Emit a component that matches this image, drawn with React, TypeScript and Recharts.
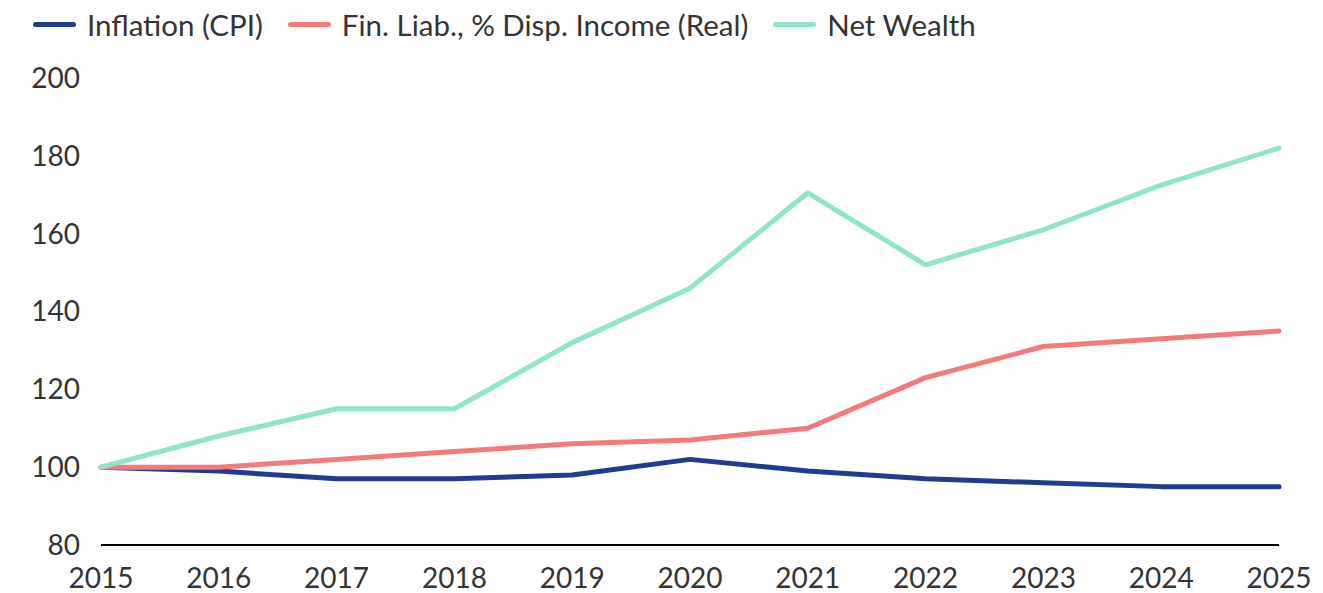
import React from 'react'
import { LineChart, Line, XAxis, YAxis } from 'recharts'

const years = ['2015', '2016', '2017', '2018', '2019', '2020', '2021', '2022', '2023', '2024', '2025']
const inflation = [100, 99, 97, 97, 98, 102, 99, 97, 96, 95, 95]
const finLiab = [100, 100, 102, 104, 106, 107, 110, 123, 131, 133, 135]
const netWealth = [100, 108, 115, 115, 132, 146, 170.5, 152, 161, 172.5, 182]
const yTicks = [80, 100, 120, 140, 160, 180, 200]

const series = [
  { key: 'inflation', name: 'Inflation (CPI)', color: '#203c8f' },
  { key: 'finLiab', name: 'Fin. Liab., % Disp. Income (Real)', color: '#f47a7b' },
  { key: 'netWealth', name: 'Net Wealth', color: '#8ee6c5' },
]

const data = years.map((year, i) => ({
  year,
  inflation: inflation[i],
  finLiab: finLiab[i],
  netWealth: netWealth[i],
}))

const FONT = 'Lato, "Open Sans", sans-serif'

// legend drawn as plain html so it doesn't push the plot area down
const ChartLegend = () => (
  <div style={{ position: 'absolute', top: -1, left: 25, display: 'flex', alignItems: 'center', fontFamily: FONT, fontSize: 29.5, color: '#333', whiteSpace: 'nowrap' }}>
    {series.map(s => (
      <div key={s.key} style={{ display: 'flex', alignItems: 'center', marginRight: 25 }}>
        <span style={{ display: 'inline-block', width: 43, height: 5, borderRadius: 3, background: s.color, marginRight: 11 }} />
        <span>{s.name}</span>
      </div>
    ))}
  </div>
)

export default function App() {
  return (
    <div style={{ position: 'relative', width: 1307, height: 585 }}>
      <ChartLegend />
      <LineChart width={1307} height={585} data={data} margin={{ top: 70, right: 36, bottom: 18, left: 0 }}>
        <XAxis
          dataKey="year"
          height={30}
          axisLine={{ stroke: '#000', strokeWidth: 2 }}
          tickLine={false}
          tick={{ fill: '#333', fontSize: 28, fontFamily: FONT }}
          tickMargin={17}
          interval={0}
        />
        <YAxis
          domain={[80, 200]}
          ticks={yTicks}
          width={93}
          axisLine={false}
          tickLine={false}
          tick={{ fill: '#333', fontSize: 28, fontFamily: FONT }}
          tickMargin={15}
        />
        {series.map(s => (
          <Line
            key={s.key}
            type="linear"
            dataKey={s.key}
            name={s.name}
            stroke={s.color}
            strokeWidth={5}
            dot={false}
            strokeLinecap="round"
            strokeLinejoin="round"
            isAnimationActive={false}
          />
        ))}
      </LineChart>
    </div>
  )
}
